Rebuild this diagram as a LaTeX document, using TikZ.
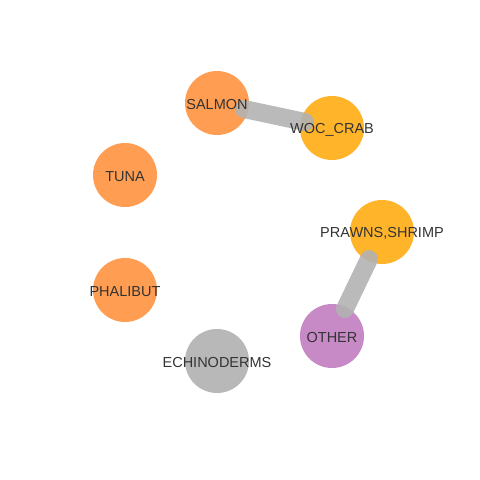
\documentclass[tikz,border=0pt]{standalone}
\usepackage{fontspec}
\setmainfont{Liberation Sans}
\begin{document}
\begin{tikzpicture}[x=1pt,y=-1pt,
  vert/.style={circle,minimum size=64pt,inner sep=0pt,draw=none},
  lbl/.style={text=black!80,font=\fontsize{14.5pt}{14.5pt}\selectfont},
  edge/.style={line width=18pt,draw=black!30,opacity=0.9,line cap=round}]
\useasboundingbox (0,0) rectangle (480,480);
\definecolor{orng}{HTML}{FF9E52}
\definecolor{gold}{HTML}{FFB42A}
\definecolor{purp}{HTML}{C78AC7}
\definecolor{gry}{HTML}{B8B8B8}
\node[vert,fill=orng] (salmon) at (217,103) {};
\node[vert,fill=gold] (woc) at (332,128) {};
\node[vert,fill=orng] (tuna) at (125,175) {};
\node[vert,fill=gold] (prawns) at (382,232) {};
\node[vert,fill=orng] (phalibut) at (125,290) {};
\node[vert,fill=purp] (other) at (332,336) {};
\node[vert,fill=gry] (echino) at (217,361) {};
\path (salmon.center) ++(27,6) coordinate (s1) (woc.center) ++(-27,-6) coordinate (w1);
\draw[edge] (s1) -- (w1);
\path (prawns.center) ++(-13,27) coordinate (p1) (other.center) ++(13,-27) coordinate (o1);
\draw[edge] (p1) -- (o1);
\node[lbl] at ([yshift=-1.5pt]salmon) {SALMON};
\node[lbl] at ([yshift=-1.5pt]woc) {WOC\_CRAB};
\node[lbl] at ([yshift=-1.5pt]tuna) {TUNA};
\node[lbl] at ([yshift=-1.5pt]prawns) {PRAWNS,SHRIMP};
\node[lbl] at ([yshift=-1.5pt]phalibut) {PHALIBUT};
\node[lbl] at ([yshift=-1.5pt]other) {OTHER};
\node[lbl] at ([yshift=-1.5pt]echino) {ECHINODERMS};
\end{tikzpicture}
\end{document}
